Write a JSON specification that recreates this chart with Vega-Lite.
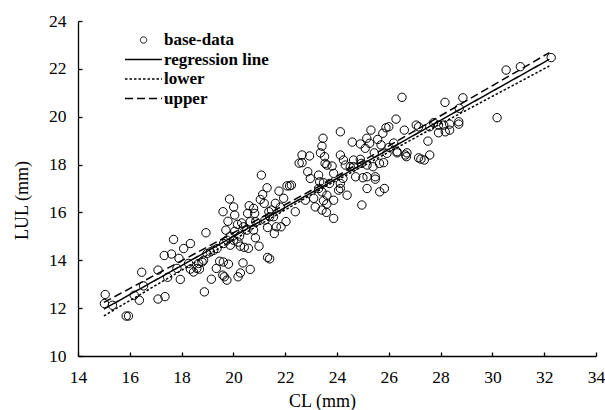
{
  "$schema": "https://vega.github.io/schema/vega-lite/v6.json",
  "width": 518,
  "height": 335,
  "autosize": {"type": "none"},
  "padding": {"left": 78, "top": 21, "right": 9, "bottom": 54},
  "background": "white",
  "config": {
    "view": {"stroke": null},
    "font": "Liberation Serif",
    "axis": {
      "domainColor": "black",
      "domainWidth": 1.3,
      "tickColor": "black",
      "tickWidth": 1.3,
      "tickSize": -4,
      "labelFont": "Liberation Serif",
      "labelFontSize": 17.5,
      "labelColor": "black",
      "labelFlush": false,
      "labelPadding": 16,
      "titleFont": "Liberation Serif",
      "titleFontSize": 18,
      "titleFontWeight": "normal",
      "titleColor": "black",
      "grid": false
    }
  },
  "datasets": {
    "pts": [
      {"cl": 15.05, "lul": 12.57}, {"cl": 15.02, "lul": 12.19}, {"cl": 15.33, "lul": 12.12}, {"cl": 15.86, "lul": 11.67}, {"cl": 15.95, "lul": 11.67},
      {"cl": 16.17, "lul": 12.54}, {"cl": 16.37, "lul": 12.33}, {"cl": 16.53, "lul": 12.93}, {"cl": 16.46, "lul": 13.5}, {"cl": 17.09, "lul": 13.59},
      {"cl": 17.09, "lul": 12.38}, {"cl": 17.36, "lul": 12.48}, {"cl": 17.46, "lul": 13.29}, {"cl": 17.33, "lul": 14.2}, {"cl": 17.61, "lul": 14.26},
      {"cl": 17.69, "lul": 14.87}, {"cl": 17.95, "lul": 13.2}, {"cl": 17.82, "lul": 13.66}, {"cl": 17.9, "lul": 14.08}, {"cl": 18.08, "lul": 14.49},
      {"cl": 18.34, "lul": 14.7}, {"cl": 18.27, "lul": 13.87}, {"cl": 18.34, "lul": 13.63}, {"cl": 18.46, "lul": 13.51}, {"cl": 18.59, "lul": 13.66},
      {"cl": 18.69, "lul": 13.63}, {"cl": 18.66, "lul": 13.87}, {"cl": 18.79, "lul": 13.93}, {"cl": 18.88, "lul": 12.68}, {"cl": 18.94, "lul": 15.15},
      {"cl": 18.85, "lul": 14.0}, {"cl": 18.98, "lul": 14.28}, {"cl": 19.11, "lul": 14.35}, {"cl": 19.24, "lul": 14.42}, {"cl": 19.37, "lul": 14.49},
      {"cl": 19.15, "lul": 13.21}, {"cl": 19.34, "lul": 13.66}, {"cl": 19.47, "lul": 13.96}, {"cl": 19.59, "lul": 13.38}, {"cl": 19.65, "lul": 13.31},
      {"cl": 19.75, "lul": 13.17}, {"cl": 19.81, "lul": 13.84}, {"cl": 19.71, "lul": 15.26}, {"cl": 19.62, "lul": 14.7}, {"cl": 19.75, "lul": 14.84},
      {"cl": 19.88, "lul": 14.63}, {"cl": 20.01, "lul": 14.84}, {"cl": 20.18, "lul": 13.31}, {"cl": 20.27, "lul": 13.47}, {"cl": 20.37, "lul": 13.89},
      {"cl": 20.65, "lul": 13.62}, {"cl": 19.6, "lul": 16.03},
      {"cl": 19.61, "lul": 13.93}, {"cl": 19.79, "lul": 15.63}, {"cl": 20.18, "lul": 14.76}, {"cl": 20.27, "lul": 14.59}, {"cl": 20.42, "lul": 14.54},
      {"cl": 20.58, "lul": 14.5}, {"cl": 20.24, "lul": 15.01}, {"cl": 20.05, "lul": 15.21}, {"cl": 19.88, "lul": 15.01}, {"cl": 19.85, "lul": 16.56},
      {"cl": 20.01, "lul": 16.23}, {"cl": 20.05, "lul": 15.89}, {"cl": 20.16, "lul": 15.5}, {"cl": 20.32, "lul": 15.56}, {"cl": 20.39, "lul": 15.4},
      {"cl": 20.52, "lul": 15.26}, {"cl": 20.55, "lul": 15.96}, {"cl": 20.61, "lul": 16.28}, {"cl": 20.78, "lul": 16.17}, {"cl": 20.82, "lul": 15.96},
      {"cl": 20.65, "lul": 15.61}, {"cl": 20.86, "lul": 15.61}, {"cl": 20.78, "lul": 15.26}, {"cl": 20.85, "lul": 14.94}, {"cl": 20.99, "lul": 14.59},
      {"cl": 21.32, "lul": 14.12}, {"cl": 21.4, "lul": 14.06}, {"cl": 21.08, "lul": 17.56}, {"cl": 21.3, "lul": 17.03}, {"cl": 21.13, "lul": 16.75},
      {"cl": 21.04, "lul": 16.54}, {"cl": 21.19, "lul": 16.38}, {"cl": 21.76, "lul": 16.89}, {"cl": 22.07, "lul": 17.11}, {"cl": 22.17, "lul": 17.11},
      {"cl": 21.94, "lul": 16.59}, {"cl": 21.62, "lul": 16.38}, {"cl": 21.47, "lul": 16.1}, {"cl": 21.37, "lul": 16.03}, {"cl": 21.4, "lul": 15.82},
      {"cl": 21.22, "lul": 15.68}, {"cl": 21.32, "lul": 15.37}, {"cl": 21.55, "lul": 15.82}, {"cl": 22.03, "lul": 15.62}, {"cl": 21.84, "lul": 15.4},
      {"cl": 21.66, "lul": 15.4}, {"cl": 21.58, "lul": 15.12}, {"cl": 22.54, "lul": 18.06}, {"cl": 21.81, "lul": 16.22},
      {"cl": 24.13, "lul": 19.37}, {"cl": 25.31, "lul": 19.44}, {"cl": 25.89, "lul": 19.54}, {"cl": 26.0, "lul": 19.58}, {"cl": 25.77, "lul": 19.31},
      {"cl": 25.15, "lul": 19.1}, {"cl": 24.59, "lul": 18.94}, {"cl": 24.9, "lul": 18.86}, {"cl": 25.26, "lul": 18.89}, {"cl": 25.57, "lul": 19.05},
      {"cl": 25.7, "lul": 18.82}, {"cl": 26.01, "lul": 18.72}, {"cl": 26.32, "lul": 18.54}, {"cl": 25.93, "lul": 18.47}, {"cl": 25.44, "lul": 18.49},
      {"cl": 25.09, "lul": 18.68}, {"cl": 23.46, "lul": 19.1}, {"cl": 23.42, "lul": 18.77}, {"cl": 23.36, "lul": 18.49}, {"cl": 22.65, "lul": 18.4},
      {"cl": 22.94, "lul": 18.36}, {"cl": 22.65, "lul": 18.08}, {"cl": 23.52, "lul": 18.33}, {"cl": 23.54, "lul": 18.05}, {"cl": 23.61, "lul": 17.98},
      {"cl": 23.81, "lul": 17.94}, {"cl": 24.13, "lul": 18.4}, {"cl": 24.25, "lul": 18.19}, {"cl": 24.32, "lul": 17.98}, {"cl": 24.64, "lul": 18.19},
      {"cl": 24.9, "lul": 18.22}, {"cl": 24.94, "lul": 18.05}, {"cl": 24.64, "lul": 17.91}, {"cl": 24.51, "lul": 17.91}, {"cl": 25.16, "lul": 17.98},
      {"cl": 25.39, "lul": 17.91}, {"cl": 25.64, "lul": 18.05}, {"cl": 25.8, "lul": 18.08}, {"cl": 22.87, "lul": 17.7}, {"cl": 22.97, "lul": 17.42},
      {"cl": 23.29, "lul": 17.56}, {"cl": 23.33, "lul": 17.28}, {"cl": 23.48, "lul": 17.24}, {"cl": 23.87, "lul": 17.63}, {"cl": 23.71, "lul": 17.21},
      {"cl": 24.13, "lul": 17.21}, {"cl": 24.23, "lul": 17.42}, {"cl": 24.72, "lul": 17.49}, {"cl": 25.0, "lul": 17.45}, {"cl": 25.16, "lul": 17.49},
      {"cl": 25.48, "lul": 17.49}, {"cl": 25.48, "lul": 17.39}, {"cl": 25.16, "lul": 17.0}, {"cl": 25.65, "lul": 16.86}, {"cl": 25.83, "lul": 17.0},
      {"cl": 23.29, "lul": 17.0}, {"cl": 23.42, "lul": 16.86}, {"cl": 23.61, "lul": 16.72}, {"cl": 24.13, "lul": 17.0}, {"cl": 24.06, "lul": 16.93},
      {"cl": 24.39, "lul": 16.72}, {"cl": 23.87, "lul": 16.51}, {"cl": 23.48, "lul": 16.49}, {"cl": 23.61, "lul": 16.35}, {"cl": 23.1, "lul": 16.59},
      {"cl": 22.78, "lul": 16.51}, {"cl": 23.16, "lul": 16.23}, {"cl": 23.42, "lul": 16.1}, {"cl": 23.59, "lul": 16.0}, {"cl": 22.39, "lul": 16.03},
      {"cl": 23.87, "lul": 15.75}, {"cl": 24.96, "lul": 16.31}, {"cl": 22.24, "lul": 17.14},
      {"cl": 26.51, "lul": 20.81}, {"cl": 28.17, "lul": 20.6}, {"cl": 28.86, "lul": 20.79}, {"cl": 28.72, "lul": 20.35}, {"cl": 30.18, "lul": 19.96},
      {"cl": 26.28, "lul": 19.9}, {"cl": 26.6, "lul": 19.44}, {"cl": 27.06, "lul": 19.65}, {"cl": 27.15, "lul": 19.58}, {"cl": 27.58, "lul": 19.58},
      {"cl": 27.73, "lul": 19.75}, {"cl": 27.92, "lul": 19.65}, {"cl": 28.12, "lul": 19.65}, {"cl": 28.35, "lul": 19.69}, {"cl": 28.7, "lul": 19.79},
      {"cl": 28.7, "lul": 19.69}, {"cl": 27.92, "lul": 19.33}, {"cl": 28.18, "lul": 19.37}, {"cl": 28.35, "lul": 19.44}, {"cl": 27.51, "lul": 18.98},
      {"cl": 26.19, "lul": 18.9}, {"cl": 26.32, "lul": 18.49}, {"cl": 26.64, "lul": 18.4}, {"cl": 26.68, "lul": 18.33}, {"cl": 26.7, "lul": 18.49},
      {"cl": 27.15, "lul": 18.28}, {"cl": 27.24, "lul": 18.23}, {"cl": 27.37, "lul": 18.19}, {"cl": 27.58, "lul": 18.4}, {"cl": 30.53, "lul": 21.95},
      {"cl": 31.08, "lul": 22.09}, {"cl": 32.27, "lul": 22.47}
    ],
    "lines": [
      {"series": "regression line", "cl": 15.0, "lul": 11.96},
      {"series": "regression line", "cl": 32.2, "lul": 22.4},
      {"series": "lower", "cl": 15.0, "lul": 11.68},
      {"series": "lower", "cl": 19.0, "lul": 14.22},
      {"series": "lower", "cl": 23.5, "lul": 17.05},
      {"series": "lower", "cl": 28.0, "lul": 19.7},
      {"series": "lower", "cl": 32.2, "lul": 22.12},
      {"series": "upper", "cl": 15.0, "lul": 12.24},
      {"series": "upper", "cl": 19.0, "lul": 14.56},
      {"series": "upper", "cl": 23.5, "lul": 17.21},
      {"series": "upper", "cl": 28.0, "lul": 20.04},
      {"series": "upper", "cl": 32.2, "lul": 22.68}
    ]
  },
  "layer": [
    {
      "data": {"name": "pts"},
      "mark": {"type": "point", "shape": "circle", "filled": false, "color": "black", "strokeWidth": 1, "size": 70, "opacity": 1},
      "encoding": {
        "x": {"field": "cl", "type": "quantitative", "scale": {"domain": [14, 34], "nice": false},
              "axis": {"title": "CL (mm)", "values": [14, 16, 18, 20, 22, 24, 26, 28, 30, 32, 34],
                       "titleX": 244, "titleY": 50, "titleBaseline": "alphabetic", "titleAlign": "center"}},
        "y": {"field": "lul", "type": "quantitative", "scale": {"domain": [10, 24], "nice": false, "zero": false},
              "axis": {"title": "LUL (mm)", "values": [10, 12, 14, 16, 18, 20, 22, 24],
                       "titleX": -51, "titleY": 179, "titleAngle": -90, "titleBaseline": "alphabetic", "titleAlign": "center"}}
      }
    },
    {
      "data": {"name": "lines"},
      "mark": {"type": "line", "color": "black", "strokeWidth": 1.5},
      "encoding": {
        "x": {"field": "cl", "type": "quantitative"},
        "y": {"field": "lul", "type": "quantitative"},
        "strokeDash": {
          "field": "series", "type": "nominal",
          "scale": {"domain": ["base-data", "regression line", "lower", "upper"], "range": [[1, 0], [1, 0], [2.5, 2], [8, 4]]},
          "legend": {
            "title": null, "orient": "none", "legendX": 47, "legendY": 11, "padding": 0,
            "symbolType": "stroke", "symbolStrokeWidth": 1.5, "symbolStrokeColor": "black", "symbolFillColor": "transparent",
            "symbolOffset": 10,
            "labelFont": "Liberation Serif", "labelFontSize": 17, "labelFontWeight": "bold", "labelColor": "black",
            "labelOffset": 12, "rowPadding": 2.5, "clipHeight": 16,
            "encode": {"symbols": {"update": {
              "shape": {"signal": "datum.value === 'base-data' ? 'circle' : 'stroke'"},
              "size": {"signal": "datum.value === 'base-data' ? 40 : 1369"},
              "strokeWidth": {"signal": "datum.value === 'base-data' ? 1 : 1.5"}
            }}}
          }
        }
      }
    }
  ]
}
